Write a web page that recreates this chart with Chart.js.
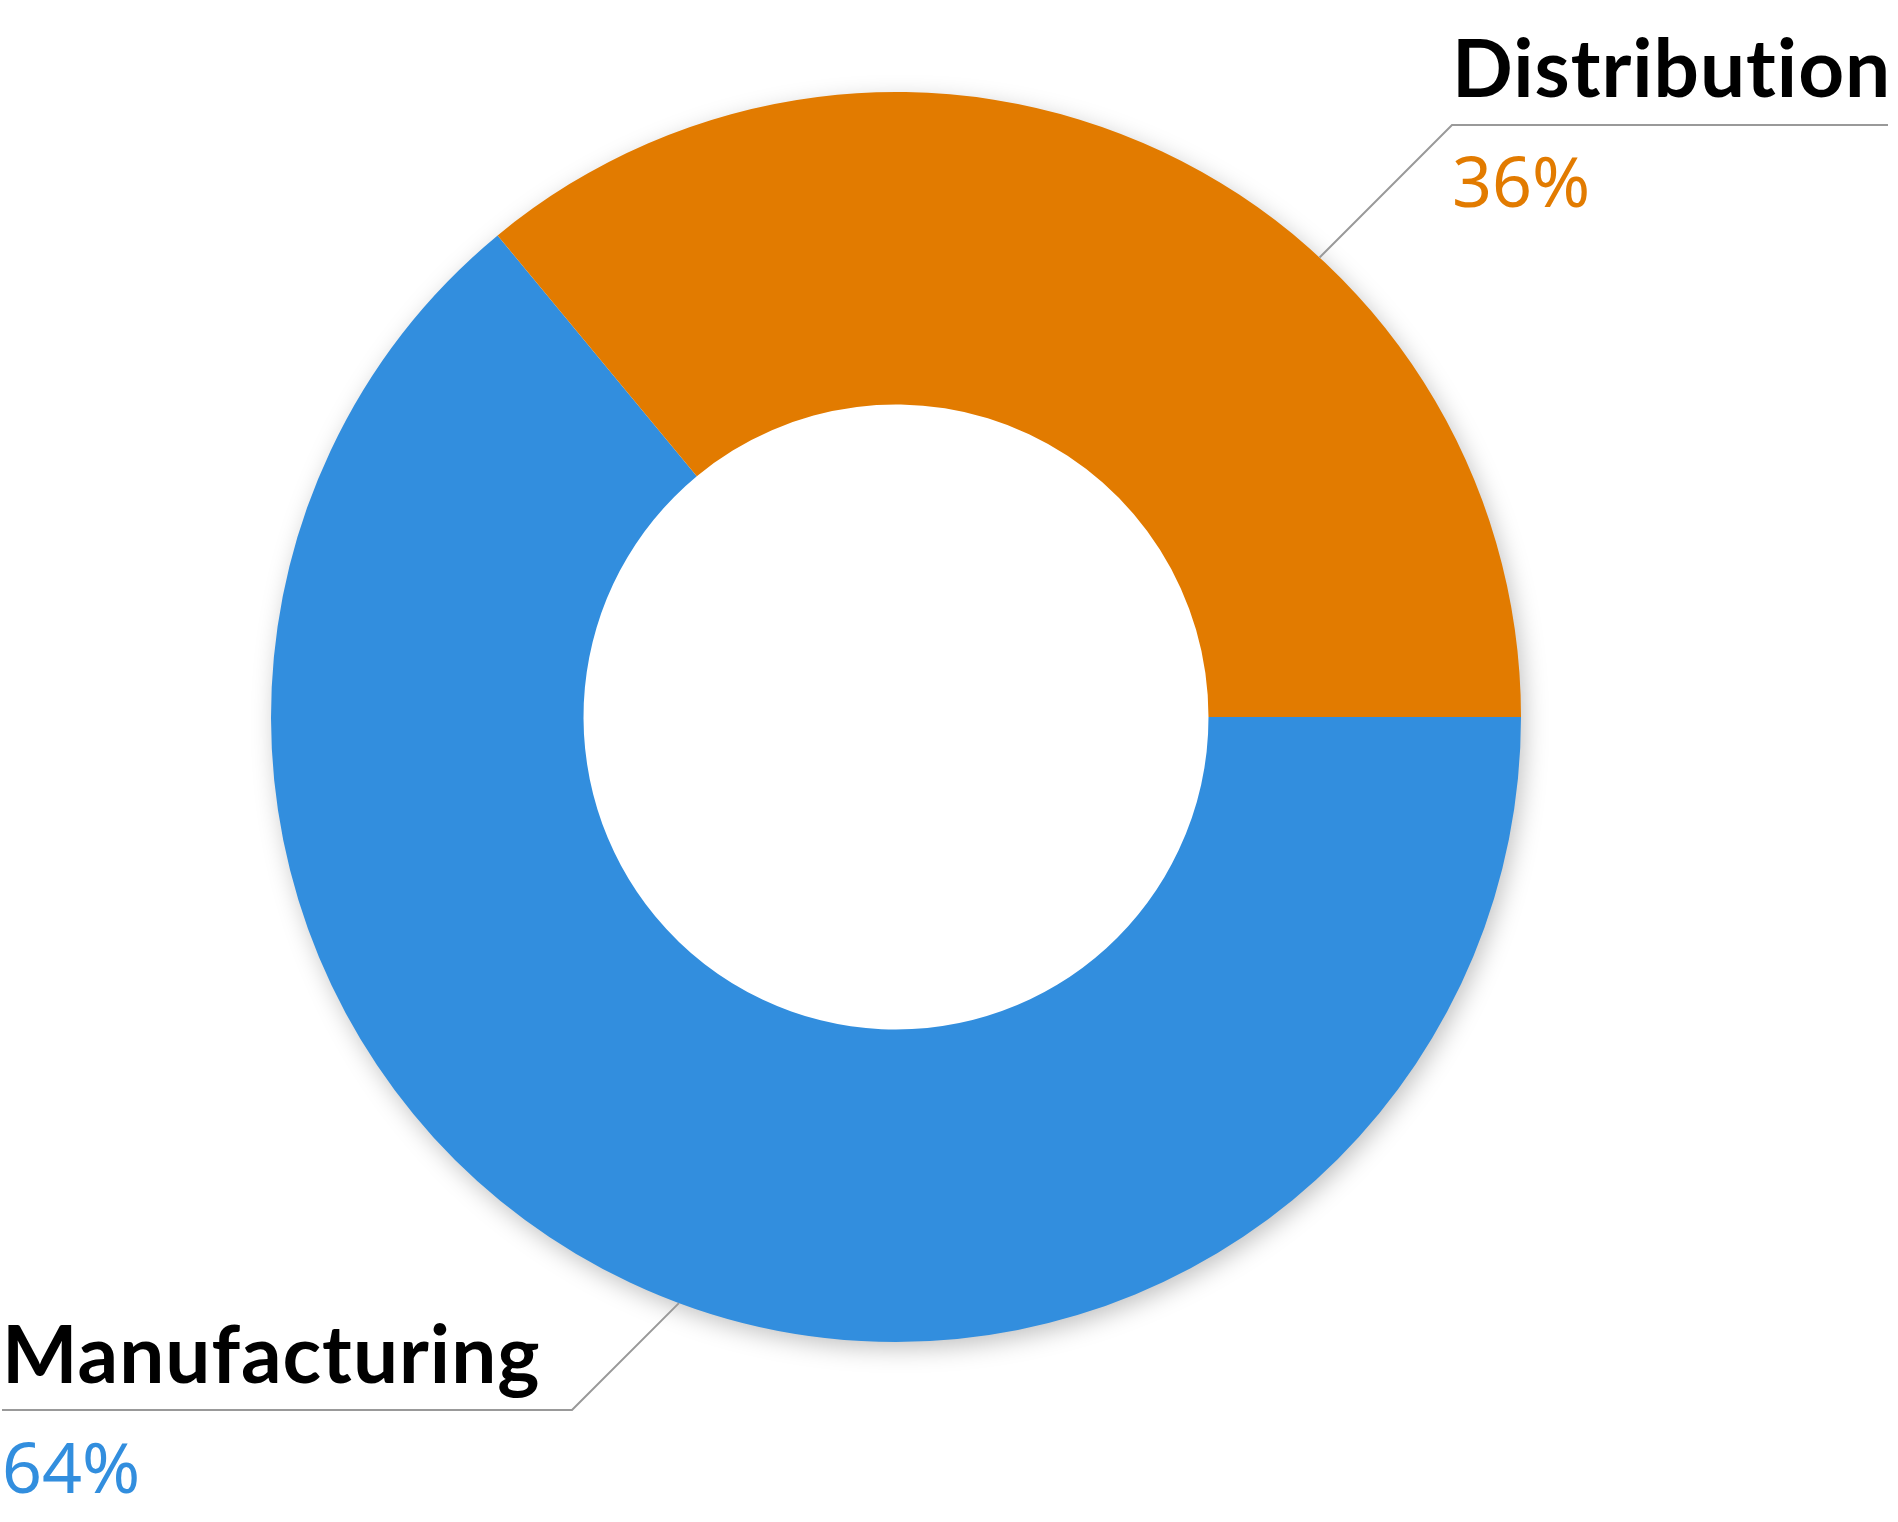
<!DOCTYPE html>
<html>
<head>
<meta charset="utf-8">
<script src="https://cdn.jsdelivr.net/npm/chart.js@4"></script>
<style>
  html, body { margin: 0; padding: 0; background: #fff; }
  #wrap { width: 1898px; height: 1522px; }
</style>
</head>
<body>
<div id="wrap"><canvas id="donut"></canvas></div>
<script>
const categories = ['Manufacturing', 'Distribution'];
const shares = [64, 36];
const shareLabels = ['64%', '36%'];
const colors = ['rgb(50, 142, 222)', 'rgb(226, 123, 0)'];

// soft shadow under the ring
const ringShadow = {
    id: 'ringShadow',
    beforeDatasetsDraw(chart) {
        const arc = chart.getDatasetMeta(0).data[0];
        if (!arc) return;
        const ctx = chart.ctx;
        ctx.save();
        ctx.shadowColor = 'rgba(0, 0, 0, 0.25)';
        ctx.shadowBlur = 24;
        ctx.shadowOffsetX = 4;
        ctx.shadowOffsetY = 7;
        ctx.fillStyle = '#fff';
        ctx.beginPath();
        ctx.arc(arc.x, arc.y, arc.outerRadius - 1, 0, Math.PI * 2);
        ctx.fill();
        ctx.restore();
    }
};

// callout labels with 45 degree leader lines
const callouts = {
    id: 'callouts',
    afterDatasetsDraw(chart, args, opts) {
        const ctx = chart.ctx;
        const arcs = chart.getDatasetMeta(0).data;
        opts.items.forEach((it) => {
            const arc = arcs[it.index];
            // walk from the elbow at 45 degrees until we meet the ring
            const dx = it.dir[0] / Math.SQRT2, dy = it.dir[1] / Math.SQRT2;
            const ex = it.elbow[0] - arc.x, ey = it.elbow[1] - arc.y;
            const b = ex * dx + ey * dy;
            const c = ex * ex + ey * ey - arc.outerRadius * arc.outerRadius;
            const t = -b - Math.sqrt(b * b - c);
            ctx.save();
            ctx.strokeStyle = '#999';
            ctx.lineWidth = 2;
            ctx.beginPath();
            ctx.moveTo(it.lineEnd, it.elbow[1]);
            ctx.lineTo(it.elbow[0], it.elbow[1]);
            ctx.lineTo(it.elbow[0] + dx * t, it.elbow[1] + dy * t);
            ctx.stroke();

            ctx.textAlign = 'left';
            ctx.textBaseline = 'alphabetic';
            ctx.fillStyle = '#000';
            ctx.font = 'bold 80px Lato';
            ctx.letterSpacing = '1px'; // also stops the "ti" ligature
            ctx.fillText(categories[it.index], it.textX, it.nameY, it.nameWidth);
            ctx.letterSpacing = '0px';
            ctx.fillStyle = colors[it.index];
            ctx.font = '70px "Noto Sans"';
            ctx.fillText(shareLabels[it.index], it.textX, it.valueY);
            ctx.restore();
        });
    }
};

new Chart(document.getElementById('donut'), {
    type: 'doughnut',
    data: {
        labels: categories,
        datasets: [{
            data: shares,
            backgroundColor: colors,
            borderWidth: 0,
            hoverOffset: 0
        }]
    },
    options: {
        responsive: true,
        maintainAspectRatio: false,
        animation: false,
        cutout: '50%',
        rotation: 90,
        layout: {
            padding: { top: 92, bottom: 180, left: 0, right: 106 }
        },
        plugins: {
            legend: { display: false },
            tooltip: { enabled: false },
            callouts: {
                items: [
                    { index: 0, elbow: [572, 1410], lineEnd: 2, dir: [1, -1],
                      textX: 2, nameY: 1383, nameWidth: 542, valueY: 1493 },
                    { index: 1, elbow: [1452, 125], lineEnd: 1888, dir: [-1, 1],
                      textX: 1452, nameY: 97, nameWidth: 440, valueY: 207 }
                ]
            }
        }
    },
    plugins: [ringShadow, callouts]
});
</script>
</body>
</html>
